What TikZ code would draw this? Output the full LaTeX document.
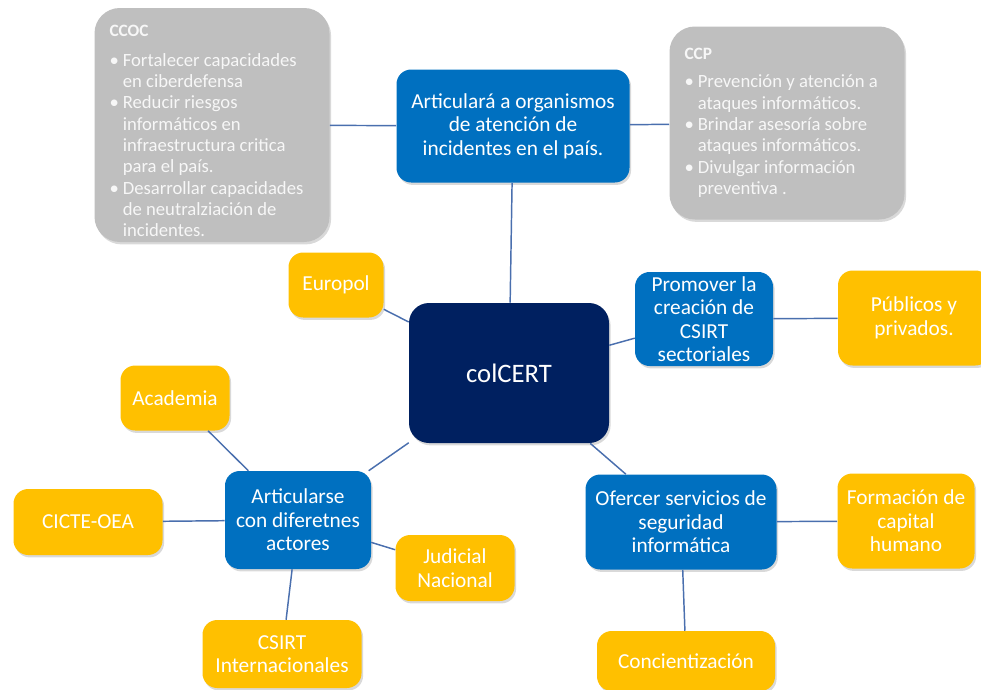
\documentclass[tikz,border=0pt]{standalone}
\usepackage{fontspec}
\setmainfont{Carlito}
\usepackage{xcolor}
\usetikzlibrary{shadows}
\definecolor{navy}{HTML}{002060}
\definecolor{azul}{HTML}{0070C0}
\definecolor{oro}{HTML}{FFC000}
\definecolor{gris}{HTML}{BFBFBF}
\definecolor{claro}{HTML}{F7F7F7}
\definecolor{enlace}{HTML}{4A6FAE}
\newcommand{\bul}{\makebox[10pt][l]{\textbullet}}
\newcommand{\hang}{\hspace*{10pt}}
\tikzset{
  caja/.style={rectangle, rounded corners=11pt, text=white, align=center, inner sep=2pt,
    font=\fontsize{16}{17.6}\selectfont,
    drop shadow={opacity=0.3, shadow xshift=1.2pt, shadow yshift=-1.8pt}},
  azulbox/.style={caja, fill=azul},
  orobox/.style={caja, fill=oro},
  grisbox/.style={caja, fill=gris, text=claro, rounded corners=19pt, align=flush left,
    inner xsep=11.25pt, font=\fontsize{14}{16}\selectfont},
  centro/.style={caja, fill=navy, rounded corners=15pt, font=\fontsize{20}{24}\selectfont},
  enlace/.style={draw=enlace, line width=1.1pt},
}
\newcommand{\tit}[1]{{\fontsize{13}{14}\selectfont\bfseries #1}}
\begin{document}
\begin{tikzpicture}[x=0.75pt, y=-0.75pt]
  \useasboundingbox (0,0) rectangle (981,689);
  \clip (0,0) rectangle (981,689);

  % cajas grises
  \node[grisbox, text width=153.75pt, minimum height=175.5pt] (ccoc) at (212,125)
    {\rule{0pt}{18pt}\tit{CCOC}\\[6pt]
     \bul Fortalecer capacidades\\ \hang en ciberdefensa\\
     \bul Reducir riesgos\\ \hang informáticos en\\ \hang infraestructura critica\\ \hang para el país.\\
     \bul Desarrollar capacidades\\ \hang de neutralziación de\\ \hang incidentes.};
  \node[grisbox, text width=153.75pt, minimum height=144.75pt] (ccp) at (787,123)
    {\tit{CCP}\\[5pt]
     \bul Prevención y atención a\\ \hang ataques informáticos.\\
     \bul Brindar asesoría sobre\\ \hang ataques informáticos.\\
     \bul Divulgar información\\ \hang preventiva .};

  % nodos azules
  \node[azulbox, minimum width=174.75pt, minimum height=84.75pt] (articula) at (513,126)
    {Articulará a organismos\\de atención de\\incidentes en el país.};
  \node[centro, minimum width=150pt, minimum height=105pt] (colcert) at (509,373) {colCERT};
  \node[azulbox, minimum width=103.5pt, minimum height=70.5pt] (promover) at (704,319)
    {Promover la\\creación de\\CSIRT\\sectoriales};
  \node[azulbox, minimum width=109.5pt, minimum height=73.5pt] (actores) at (298,520)
    {Articularse\\con diferetnes\\actores};
  \node[azulbox, minimum width=143.25pt, minimum height=71.25pt] (servicios) at (681,522)
    {Ofercer servicios de\\seguridad\\informática};

  % nodos amarillos
  \node[orobox, minimum width=71.25pt, minimum height=48.75pt] (europol) at (336,285) {Europol};
  \node[orobox, minimum width=114pt, minimum height=71.25pt] (publicos) at (914,318) {Públicos y\\privados.};
  \node[orobox, minimum width=81.75pt, minimum height=48.75pt] (academia) at (175,398) {Academia};
  \node[orobox, minimum width=111.75pt, minimum height=49.5pt] (cicte) at (88,522) {CICTE-OEA};
  \node[orobox, minimum width=89.25pt, minimum height=49.5pt] (judicial) at (455,568) {Judicial\\Nacional};
  \node[orobox, minimum width=119.25pt, minimum height=51pt] (csirt) at (282,654) {CSIRT\\Internacionales};
  \node[orobox, minimum width=102.75pt, minimum height=71.25pt] (formacion) at (906,521) {Formación de\\capital\\humano};
  \node[orobox, minimum width=133.5pt, minimum height=45pt] (concienc) at (686,661) {Concientización};

  % enlaces
  \draw[enlace] (ccoc) -- (articula);
  \draw[enlace] (articula) -- (ccp);
  \draw[enlace] (articula) -- (colcert);
  \draw[enlace] (europol) -- (colcert);
  \draw[enlace] (colcert) -- (promover);
  \draw[enlace] (promover) -- (publicos);
  \draw[enlace] (colcert) -- (actores);
  \draw[enlace] (academia) -- (actores);
  \draw[enlace] (cicte) -- (actores);
  \draw[enlace] (actores) -- (judicial);
  \draw[enlace] (actores) -- (csirt);
  \draw[enlace] (colcert) -- (servicios);
  \draw[enlace] (servicios) -- (formacion);
  \draw[enlace] (servicios) -- (concienc);
\end{tikzpicture}
\end{document}
